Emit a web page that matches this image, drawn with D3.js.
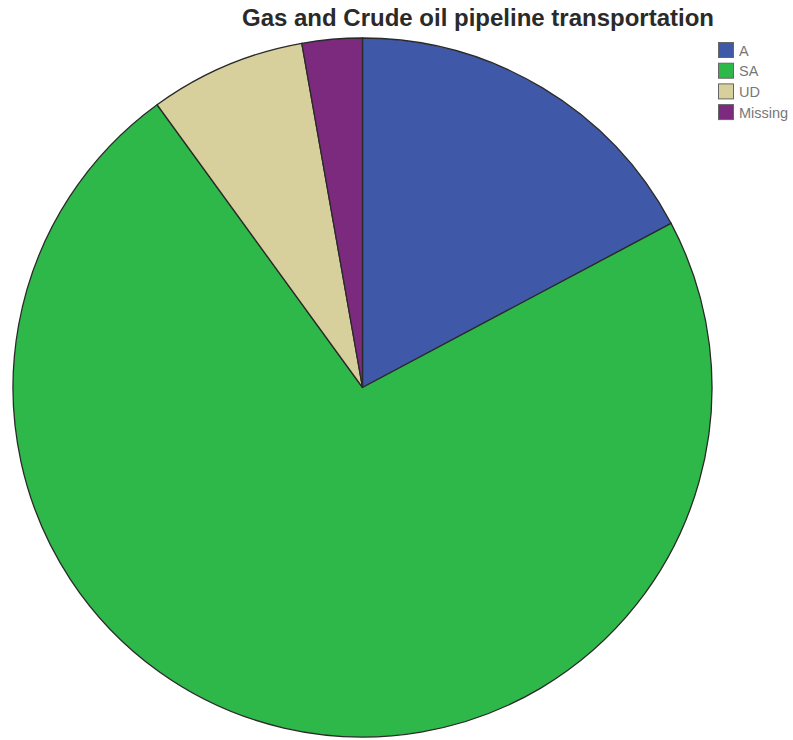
<!DOCTYPE html>
<html><head><meta charset="utf-8">
<script src="https://cdn.jsdelivr.net/npm/d3@7"></script>
<style>body{margin:0;background:#fff;}svg{display:block;}</style>
</head><body>
<script>
const categories = ["A", "SA", "UD", "Missing"];
const counts = [31, 131, 13, 5];
const colors = ["#3f58a8", "#2fb84a", "#d7d09c", "#7c2a7e"];
const title = "Gas and Crude oil pipeline transportation";

const W = 793, H = 740;
const svg = d3.select("body").append("svg").attr("width", W).attr("height", H);

const data = categories.map((c, i) => ({cat: c, value: counts[i], color: colors[i]}));
const pie = d3.pie().value(d => d.value).sort(null);
const arc = d3.arc().innerRadius(0).outerRadius(349.5);

const g = svg.append("g").attr("transform", "translate(362.5,387.5)");
g.selectAll("path").data(pie(data)).join("path")
  .attr("d", arc)
  .attr("fill", d => d.data.color)
  .attr("stroke", "#2a2a2a")
  .attr("stroke-width", 1.3);

svg.append("text").attr("x", 478).attr("y", 26)
  .attr("text-anchor", "middle")
  .attr("font-family", "Liberation Sans, Arial, sans-serif")
  .attr("font-weight", "bold").attr("font-size", 24)
  .attr("fill", "#2a2a2a").text(title);

const leg = svg.append("g").attr("transform", "translate(718,42)");
const items = leg.selectAll("g").data(data).join("g")
  .attr("transform", (d, i) => `translate(0,${i * 20.7})`);
items.append("rect").attr("x", 0.5).attr("y", 0.5).attr("width", 15).attr("height", 15)
  .attr("fill", d => d.color).attr("stroke", "#666").attr("stroke-width", 1);
items.append("text").attr("x", 21).attr("y", 13.5)
  .attr("font-family", "Liberation Sans, Arial, sans-serif")
  .attr("font-size", 14.5).attr("fill", "#777").text(d => d.cat);
</script>
</body></html>
